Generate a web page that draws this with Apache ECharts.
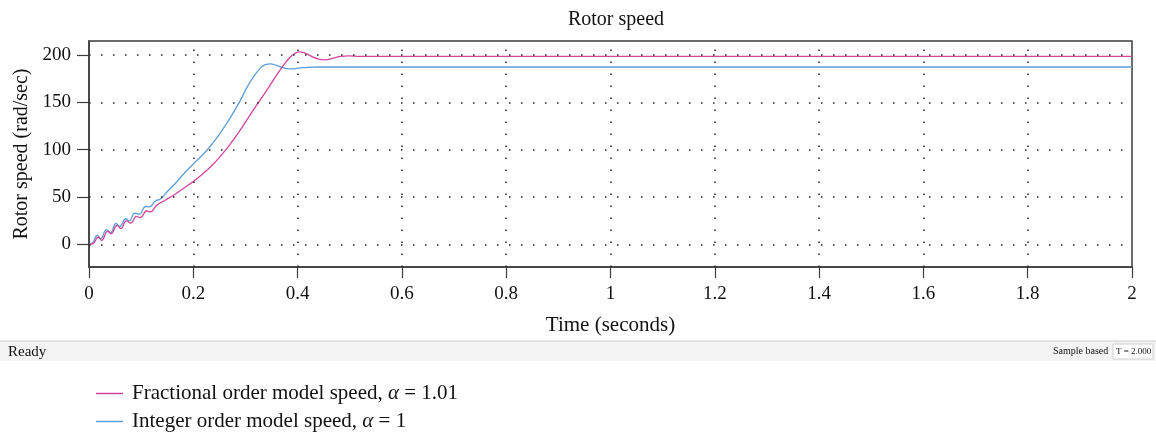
<!DOCTYPE html>
<html>
<head>
<meta charset="utf-8">
<title>Rotor speed</title>
<script src="https://cdn.jsdelivr.net/npm/echarts@6/dist/echarts.min.js"></script>
<style>
  html, body { margin: 0; padding: 0; background: #fff; }
  #chart { width: 1156px; height: 434px; }
</style>
</head>
<body>
<div id="chart"></div>
<script>
  var timeFrac = [0, 0.008, 0.018, 0.024, 0.036, 0.042, 0.054, 0.061, 0.072, 0.080, 0.091, 0.098, 0.111, 0.117, 0.130, 0.146, 0.165, 0.185, 0.2, 0.226, 0.251, 0.283, 0.315, 0.341, 0.366, 0.385, 0.396, 0.404, 0.412, 0.424, 0.44, 0.453, 0.468, 0.483, 0.498, 0.52, 0.56, 0.7, 1.0, 1.5, 2.0];
  var speedFrac = [0, 1, 7.7, 4.2, 14, 11.3, 20, 16.6, 24.7, 22.5, 29.6, 28.2, 35.2, 34.2, 41.3, 46.6, 53, 60.6, 66.5, 78.3, 92.4, 115.3, 141.8, 163, 184, 197.5, 202.3, 203.6, 202.8, 199.5, 195.8, 195, 196.8, 198.8, 199.2, 198.7, 198.8, 198.8, 198.8, 198.8, 198.8];

  var timeInt = [0, 0.007, 0.016, 0.022, 0.034, 0.041, 0.052, 0.059, 0.071, 0.077, 0.088, 0.096, 0.109, 0.115, 0.128, 0.137, 0.148, 0.165, 0.18, 0.2, 0.226, 0.251, 0.283, 0.309, 0.328, 0.338, 0.348, 0.358, 0.37, 0.385, 0.41, 0.44, 0.5, 0.7, 1.0, 1.5, 2.0];
  var speedInt = [0, 1.5, 9.5, 6, 15.5, 12.4, 22, 19, 27, 24.7, 33, 31.7, 40, 39.5, 46, 47.8, 54.5, 64, 73.5, 85, 99.5, 117, 145, 171.8, 186, 190, 190.8, 189.5, 187.2, 185.6, 186.8, 187.5, 187.5, 187.5, 187.5, 187.5, 187.5];

  var yTicks = [0, 50, 100, 150, 200];
  var xTicks = [0.2, 0.4, 0.6, 0.8, 1, 1.2, 1.4, 1.6, 1.8];

  var seriesNames = ['Fractional order model speed, \u03b1 = 1.01', 'Integer order model speed, \u03b1 = 1'];

  var serif = '"Liberation Serif", "DejaVu Serif", serif';

  function pairs(xs, ys) {
    var out = [];
    for (var i = 0; i < xs.length; i += 1) {
      out.push([xs[i], ys[i]]);
    }
    return out;
  }

  // dotted grid, drawn as mark lines so the y lines sit on 0..200 only
  function gridLines() {
    var data = [];
    for (var i = 0; i < yTicks.length; i += 1) {
      data.push({ yAxis: yTicks[i] });
    }
    for (var j = 0; j < xTicks.length; j += 1) {
      data.push({ xAxis: xTicks[j] });
    }
    return data;
  }

  var chart = echarts.init(document.getElementById('chart'), null, { renderer: 'canvas' });

  chart.setOption({
    animation: false,
    backgroundColor: '#fff',
    title: {
      text: 'Rotor speed',
      left: 611,
      textAlign: 'center',
      top: 5,
      textStyle: { fontFamily: serif, fontSize: 20, fontWeight: 'normal', color: '#111' }
    },
    grid: {
      left: 89,
      right: 24,
      top: 41,
      height: 226,
      show: true,
      borderColor: '#3c3c3c',
      borderWidth: 1.5
    },
    xAxis: {
      type: 'value',
      min: 0,
      max: 2,
      interval: 0.2,
      name: 'Time (seconds)',
      nameLocation: 'middle',
      nameGap: 48,
      nameTextStyle: { fontFamily: serif, fontSize: 21, color: '#111' },
      axisLine: { show: true, onZero: false, lineStyle: { color: '#3c3c3c', width: 1.5 } },
      axisTick: { show: true, length: 11, lineStyle: { color: '#3c3c3c', width: 1.2 } },
      axisLabel: { fontFamily: serif, fontSize: 19, color: '#111', margin: 18 },
      splitLine: { show: false }
    },
    yAxis: {
      type: 'value',
      min: -24,
      max: 215,
      name: 'Rotor speed (rad/sec)',
      nameLocation: 'middle',
      nameGap: 56,
      nameTextStyle: { fontFamily: serif, fontSize: 20, color: '#111' },
      axisLine: { show: true, onZero: false, lineStyle: { color: '#3c3c3c', width: 1.5 } },
      axisTick: { show: true, length: 12, customValues: yTicks, lineStyle: { color: '#3c3c3c', width: 1.2 } },
      axisLabel: { fontFamily: serif, fontSize: 19, color: '#111', margin: 18, customValues: yTicks },
      splitLine: { show: false }
    },
    legend: {
      orient: 'vertical',
      left: 96,
      top: 383,
      padding: 0,
      icon: 'rect',
      itemWidth: 27,
      itemHeight: 1.5,
      itemGap: 7,
      data: seriesNames,
      textStyle: {
        fontFamily: serif,
        fontSize: 21,
        lineHeight: 21,
        color: '#111',
        padding: [0, 0, 0, 4],
        rich: {
          a: { fontFamily: serif, fontSize: 21, lineHeight: 21, fontStyle: 'italic', color: '#111' }
        }
      },
      formatter: function (name) {
        return name.replace('\u03b1', '{a|\u03b1}');
      }
    },
    graphic: [
      {
        type: 'rect',
        shape: { x: 0, y: 341, width: 1156, height: 20 },
        style: { fill: '#f3f3f3', stroke: null },
        silent: true
      },
      {
        type: 'line',
        shape: { x1: 0, y1: 341, x2: 1156, y2: 341 },
        style: { stroke: '#cfcfcf', lineWidth: 1 },
        silent: true
      },
      {
        type: 'text',
        left: 8,
        top: 345,
        style: { text: 'Ready', font: '15px ' + serif, fill: '#111' }
      },
      {
        type: 'text',
        left: 1053,
        top: 346,
        style: { text: 'Sample based', font: '10px ' + serif, fill: '#111' }
      },
      {
        type: 'rect',
        shape: { x: 1113, y: 344, width: 40, height: 15 },
        style: { fill: '#fff', stroke: '#d0d0d0', lineWidth: 1 },
        silent: true
      },
      {
        type: 'text',
        left: 1116,
        top: 347,
        style: { text: 'T = 2.000', font: '9px ' + serif, fill: '#111' }
      }
    ],
    series: [
      {
        name: seriesNames[0],
        type: 'line',
        data: pairs(timeFrac, speedFrac),
        symbol: 'none',
        smooth: 0.5,
        z: 3,
        lineStyle: { color: '#d2449e', width: 1.3 },
        itemStyle: { color: '#d2449e' },
        markLine: {
          silent: true,
          symbol: 'none',
          label: { show: false },
          lineStyle: { color: '#222', width: 1.5, type: [1.5, 10.5] },
          emphasis: { disabled: true },
          data: gridLines()
        }
      },
      {
        name: seriesNames[1],
        type: 'line',
        data: pairs(timeInt, speedInt),
        symbol: 'none',
        smooth: 0.5,
        z: 2,
        lineStyle: { color: '#5c9fd8', width: 1.3 },
        itemStyle: { color: '#5c9fd8' }
      }
    ]
  });
</script>
</body>
</html>
